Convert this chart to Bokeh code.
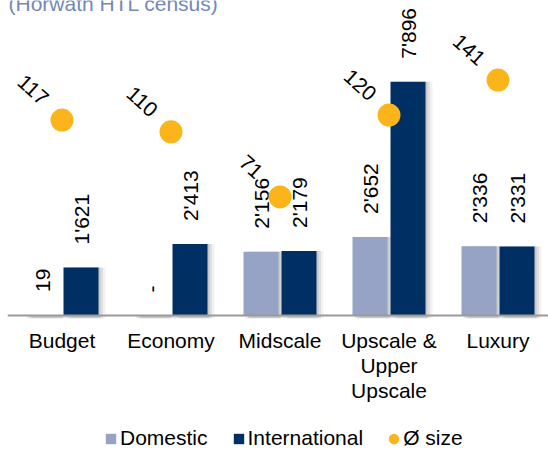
import math
from bokeh.plotting import figure
from bokeh.models import Range1d, Label, Legend, LegendItem, ColumnDataSource, Span
from bokeh.core.properties import value
from bokeh.embed import file_html
from bokeh.resources import INLINE

# ---------------- data ----------------
categories = ["Budget", "Economy", "Midscale", "Upscale &\nUpper\nUpscale", "Luxury"]
domestic = [19, 0, 2156, 2652, 2336]
international = [1621, 2413, 2179, 7896, 2331]
avg_size = [117, 110, 71, 120, 141]
series_names = ["Domestic", "International", "Ø size"]
title_text = "(Horwath HTL census)"

# ---------------- style ----------------
FONT = "Liberation Sans"
C_DOM = "#96a3c4"
C_INT = "#003063"
C_DOT = "#fbb41a"
C_TITLE = "#7487b7"


def fmt(v):
    return "-" if v == 0 else f"{v:,}".replace(",", "'")


n = len(categories)
idx = list(range(n))
cat_px = 109.0
frame_left = 7
frame_w = 548 - frame_left
frame_h = 450
first_center = 54.5
x_start = -first_center / cat_px
x_end = (frame_w - first_center) / cat_px
off = 19.0 / cat_px
bw = 35.0 / cat_px

p = figure(frame_width=frame_w, frame_height=frame_h,
           x_range=Range1d(x_start, x_end), y_range=Range1d(-4560, 10640),
           output_backend="svg", toolbar_location=None,
           x_axis_location=None, y_axis_location=None,
           min_border_left=frame_left, min_border_right=0, min_border_top=6, min_border_bottom=0)
p.extra_y_ranges = {"size": Range1d(-80.8, 188.6)}
p.styles = {"margin-top": "-6px"}
p.outline_line_color = None
p.xgrid.visible = False
p.ygrid.visible = False
p.background_fill_color = "white"

src = ColumnDataSource(dict(
    xd=[i - off for i in idx], xi=[i + off for i in idx],
    dom=domestic, intl=international, size=avg_size, xc=idx, zero=[0] * n,
    cat=categories,
    dom_lab=[fmt(v) for v in domestic], int_lab=[fmt(v) for v in international],
    size_lab=[str(v) for v in avg_size],
))

# soft shadows right of the bars
for dpx, alpha in [(2.0, 0.10), (4.5, 0.08), (7.0, 0.05)]:
    dx = dpx / cat_px
    sh = ColumnDataSource(dict(
        xd=[i - off + dx for i in idx], xi=[i + off + dx for i in idx],
        dom=domestic, intl=international))
    p.vbar(x="xd", top="dom", bottom=-90, width=bw, source=sh, fill_color="black",
           fill_alpha=alpha, line_color=None)
    p.vbar(x="xi", top="intl", bottom=-90, width=bw, source=sh, fill_color="black",
           fill_alpha=alpha, line_color=None)

r_dom = p.vbar(x="xd", top="dom", bottom=0, width=bw, source=src, fill_color=C_DOM, line_color=None)
r_int = p.vbar(x="xi", top="intl", bottom=0, width=bw, source=src, fill_color=C_INT, line_color=None)

# category axis line at zero
p.add_layout(Span(location=0, dimension="width", line_color="#9a9a9a", line_width=2))

# category labels under the axis line
p.text(x="xc", y="zero", text="cat", source=src, text_align="center", text_baseline="top",
       y_offset=13, text_font=value(FONT), text_font_size="21px", text_color="black",
       text_line_height=1.09)

for xf, yf, lf in [("xd", "dom", "dom_lab"), ("xi", "intl", "int_lab")]:
    p.text(x=xf, y=yf, text=lf, source=src, angle=math.pi / 2, text_align="left",
           text_baseline="middle", y_offset=-23, text_font=value(FONT),
           text_font_size="21px", text_color="black")

r_dot = p.ellipse(x="xc", y="size", width=23, height=23, width_units="screen",
                  height_units="screen", source=src, fill_color=C_DOT, line_color=None,
                  y_range_name="size")
p.text(x="xc", y="size", text="size_lab", source=src, y_range_name="size",
       angle=-math.radians(42), text_align="center", text_baseline="middle",
       x_offset=-29, y_offset=-30, text_font=value(FONT), text_font_size="21px",
       text_color="black")

# title fragment (cut at the top, as in the source)
p.add_layout(Label(x=1, y=447, x_units="screen", y_units="screen", text=title_text,
                   text_font=FONT, text_font_size="21px", text_color=C_TITLE,
                   text_baseline="alphabetic", text_align="left"))

legend = Legend(items=[LegendItem(label=series_names[0], renderers=[r_dom]),
                       LegendItem(label=series_names[1], renderers=[r_int]),
                       LegendItem(label=series_names[2], renderers=[r_dot])],
                location=(97, 0), orientation="horizontal", glyph_width=13,
                glyph_height=13, label_standoff=3, spacing=24, padding=0, margin=0,
                border_line_color=None, background_fill_alpha=0,
                label_text_font=FONT, label_text_font_size="21px", label_text_color="black")
p.add_layout(legend)

open("out.html", "w").write(file_html(p, INLINE))
